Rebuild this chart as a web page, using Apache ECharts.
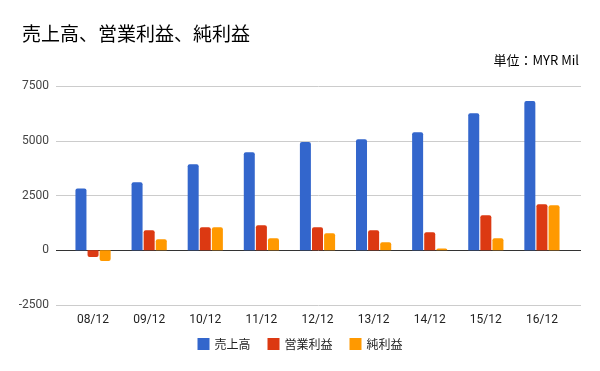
<!DOCTYPE html>
<html><head><meta charset="utf-8">
<script src="https://cdn.jsdelivr.net/npm/echarts@6/dist/echarts.min.js"></script>
<style>html,body{margin:0;padding:0;background:#fff}#c{width:600px;height:371px}</style>
</head><body><div id="c"></div>
<script>
const categories = ['08/12','09/12','10/12','11/12','12/12','13/12','14/12','15/12','16/12'];
const seriesNames = ['売上高','営業利益','純利益'];
const sales = [2820, 3110, 3930, 4480, 4940, 5070, 5390, 6260, 6810];
const operatingProfit = [-310, 910, 1050, 1140, 1050, 910, 820, 1600, 2100];
const netProfit = [-490, 500, 1050, 550, 780, 370, 80, 550, 2060];
const yTicks = [-2500, 0, 2500, 5000, 7500];
const colors = ['#3366cc', '#dc3912', '#ff9900'];
const FONT = '"Noto Sans CJK JP", "Noto Sans", Roboto, sans-serif';

function toData(arr) {
  return arr.map(v => v < 0 ? { value: v, itemStyle: { borderRadius: [0, 0, 2, 2] } } : v);
}

const yMin = yTicks[0], yMax = yTicks[yTicks.length - 1];
const splitColors = yTicks.map(t => t === 0 ? '#333333' : '#cccccc');

const chart = echarts.init(document.getElementById('c'), null, { renderer: 'canvas' });
chart.setOption({
  animation: false,
  color: colors,
  textStyle: { fontFamily: FONT },
  title: [
    { text: '売上高、営業利益、純利益', left: 17, top: 19, textStyle: { fontSize: 19, fontWeight: 'normal', color: '#000', fontFamily: FONT } },
    { text: '単位：MYR Mil', right: 16, top: 49, textStyle: { fontSize: 13, fontWeight: 'normal', color: '#000', fontFamily: FONT } }
  ],
  legend: {
    bottom: 16, left: 'center', itemWidth: 12, itemHeight: 12, itemGap: 17, icon: 'rect',
    textStyle: { fontSize: 12, color: '#222', fontFamily: FONT }
  },
  grid: [
    { left: 56, right: 19, top: 86, bottom: 66 },
    { left: 65, right: 30, top: 86, bottom: 66 }
  ],
  xAxis: [
    { type: 'category', gridIndex: 0, data: categories, show: false },
    { type: 'category', gridIndex: 1, data: categories,
      axisLine: { show: false }, axisTick: { show: false },
      axisLabel: { color: '#222', fontSize: 12, margin: 9, fontFamily: 'Roboto, sans-serif' } }
  ],
  yAxis: [
    { type: 'value', gridIndex: 0, min: yMin, max: yMax, interval: 2500,
      axisLine: { show: false }, axisTick: { show: false },
      axisLabel: { color: '#444', fontSize: 12, margin: 7, fontFamily: 'Roboto, sans-serif', formatter: v => String(v) },
      splitLine: { lineStyle: { color: splitColors, width: 1 } } },
    { type: 'value', gridIndex: 1, min: yMin, max: yMax, interval: 2500, show: false, splitLine: { show: false } }
  ],
  series: [
    { name: seriesNames[0], type: 'bar', xAxisIndex: 1, yAxisIndex: 1, data: toData(sales), barWidth: 11, barGap: '10%', itemStyle: { borderRadius: [2, 2, 0, 0] } },
    { name: seriesNames[1], type: 'bar', xAxisIndex: 1, yAxisIndex: 1, data: toData(operatingProfit), barWidth: 11, barGap: '10%', itemStyle: { borderRadius: [2, 2, 0, 0] } },
    { name: seriesNames[2], type: 'bar', xAxisIndex: 1, yAxisIndex: 1, data: toData(netProfit), barWidth: 11, barGap: '10%', itemStyle: { borderRadius: [2, 2, 0, 0] } }
  ]
});
</script></body></html>
